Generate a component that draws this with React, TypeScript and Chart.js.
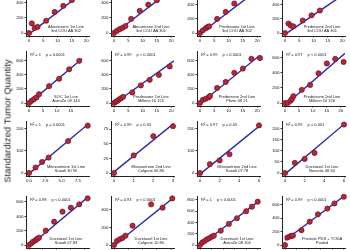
import React, { useEffect, useRef } from "react";
import { Chart, registerables } from "chart.js";

Chart.register(...registerables);

// ---------- data ----------
const panelTitles = [
  "Abiraterone 1st Line", "Abiraterone 2nd Line", "Prednisone 1st Line", "Prednisone 2nd Line",
  "SOC 1st Line", "Prednisone 1st Line", "Prednisone 2nd Line", "Prednisone 2nd Line",
  "Mitoxantrone 1st Line", "Mitoxantrone 2nd Line", "Mitoxantrone 2nd Line", "Docetaxel 1st Line",
  "Docetaxel 1st Line", "Docetaxel 1st Line", "Docetaxel 1st Line", "Prostate PDS + YODA",
];
const panelSources = [
  "3rd COU AA 302", "3rd COU AA 301", "3rd COU AA 302", "3rd COU AA 301",
  "AstraZe 09 144", "Millenn 10 155", "Pfizer 08 21", "Millenn 10 156",
  "Sanofi 30 90", "Celgene 06 86", "Sanofi 07 78", "Novartis 08 60",
  "Sanofi 07 83", "Celgene 10 80", "AstraZe 08 104", "Pooled",
];
const panelR2 = [
  "", "", "", "",
  "R\u00B2 = 1", "R\u00B2 = 0.99", "R\u00B2 = 0.99", "R\u00B2 = 0.97",
  "R\u00B2 = 1", "R\u00B2 = 0.99", "R\u00B2 = 0.97", "R\u00B2 = 0.99",
  "R\u00B2 = 0.98", "R\u00B2 = 0.93", "R\u00B2 = 1", "R\u00B2 = 0.99",
];
const panelP = [
  "", "", "", "",
  "p = 0.0001", "p < 0.0001", "p < 0.0001", "p < 0.0001",
  "p = 0.0001", "p = 0.05", "p = 0.05", "p = 0.001",
  "p < 0.0001", "p < 0.0001", "p < 0.0001", "p < 0.0001",
];

const abi1X = [0, 1, 2, 3, 6, 9, 12, 15];
const abi1Y = [0, 125, 65, 80, 160, 275, 355, 430];
const abi2X = [0, 1, 2, 3, 4, 6, 9, 12, 15];
const abi2Y = [0, 28, 50, 68, 90, 185, 290, 370, 428];
const pred1aX = [0, 1, 2, 2.7, 3.2, 6, 9, 12];
const pred1aY = [0, 38, 67, 86, 95, 200, 300, 420];
const pred2aX = [0, 1.2, 2, 2.9, 6.2, 9.3, 12.2];
const pred2aY = [0, 135, 105, 95, 178, 252, 320];
const socX = [0, 0.9, 1.8, 2.7, 3.6, 7.2, 10.8, 14.4, 18];
const socY = [0, 30, 55, 80, 125, 240, 345, 480, 600];
const pred1bX = [0, 0.6, 1.2, 1.8, 2.5, 3.2, 6.4, 9.4, 12.5, 15.7, 19.5];
const pred1bY = [0, 17, 31, 50, 69, 88, 150, 250, 330, 400, 520];
const pred2bX = [0, 1, 2, 3, 3.5, 6, 9, 12, 15, 18, 21];
const pred2bY = [0, 45, 60, 80, 100, 215, 300, 430, 490, 630, 640];
const pred2cX = [0, 1, 2, 2.5, 3, 6, 9, 12, 15, 18, 21];
const pred2cY = [0, 0, 30, 55, 90, 175, 240, 395, 525, 585, 545];
const mito1X = [0, 1, 2, 3, 6, 9];
const mito1Y = [0, 25, 50, 70, 145, 215];
const mito2aX = [0, 1, 2, 3];
const mito2aY = [0, 30, 63, 80];
const mito2bX = [0, 1, 2, 3, 6];
const mito2bY = [0, 40, 57, 85, 216];
const doce1aX = [0, 1, 2, 3, 6];
const doce1aY = [0, 46, 64, 91, 220];
const doce1bX = [0, 0.8, 1.5, 2.3, 2.9, 3.6, 6, 9, 12, 15, 18, 21];
const doce1bY = [0, 23, 47, 65, 84, 102, 200, 325, 465, 520, 567, 650];
const doce1cX = [0, 1, 2, 3, 4, 6.5, 13, 17, 20.4];
const doce1cY = [0, 45, 65, 80, 105, 218, 460, 422, 527];
const doce1dX = [0, 1, 2, 3, 4, 5, 6, 9, 12.5, 16, 20, 22.5, 25];
const doce1dY = [0, 45, 70, 100, 120, 145, 165, 255, 375, 475, 600, 680, 770];
const pooledX = [0, 1, 2, 2.7, 3.4, 7, 10.5, 14, 18, 21, 25];
const pooledY = [0, 110, 125, 135, 140, 220, 345, 455, 540, 615, 715];

const pointX = [abi1X, abi2X, pred1aX, pred2aX, socX, pred1bX, pred2bX, pred2cX,
  mito1X, mito2aX, mito2bX, doce1aX, doce1bX, doce1cX, doce1dX, pooledX];
const pointY = [abi1Y, abi2Y, pred1aY, pred2aY, socY, pred1bY, pred2bY, pred2cY,
  mito1Y, mito2aY, mito2bY, doce1aY, doce1bY, doce1cY, doce1dY, pooledY];

// regression line end points [x0, y0, x1, y1]
const fitLines = [
  [0, -15, 21, 590], [0, -10, 21, 590], [0, -10, 21, 640], [0, -20, 21, 560],
  [0, -5, 19, 630], [0, -10, 21, 600], [0, -10, 21, 680], [0, -30, 21.5, 660],
  [0, -3, 9.2, 225], [0, 2, 3.05, 85], [0, -5, 6.1, 215], [0, -5, 6.1, 225],
  [0, -20, 21.5, 680], [0, -5, 21, 540], [0, -10, 25.5, 780], [0, 70, 25.5, 735],
];

const xAxisMax = [21, 21, 21, 21, 21.5, 21, 21, 21.5, 9.2, 3.05, 6.1, 6.1, 21.5, 21, 26, 25.5];
const yAxisMax = [680, 680, 740, 740, 740, 740, 740, 690, 236, 89, 236, 236, 683, 554, 870, 726];

const T20 = [0, 5, 10, 15, 20];
const xTickValues = [
  T20, T20, T20, T20,
  [0, 5, 10, 15], T20, T20, T20,
  [0, 2.5, 5, 7.5], [0, 1, 2, 3], [0, 2, 4, 6], [0, 2, 4, 6],
  T20, T20, [0, 5, 10, 15, 20, 25], [0, 5, 10, 15, 20, 25],
];
const xTickDecimals = [0, 0, 0, 0, 0, 0, 0, 0, 1, 0, 0, 0, 0, 0, 0, 0];
const Y600 = [0, 200, 400, 600];
const yTickValues = [
  Y600, Y600, Y600, Y600,
  Y600, Y600, Y600, Y600,
  [0, 100, 200], [0, 25, 50, 75], [0, 100, 200], [0, 50, 100, 150, 200],
  Y600, [0, 200, 400], [0, 200, 400, 600, 800], Y600,
];

const yAxisTitle = "Standardized Tumor Quantity";

// ---------- layout ----------
const COL_X0 = [29, 114, 200, 285];
const ROW_Y0 = [33, 103, 173, 245];
const ROW_H = [52, 52, 52, 49];
const PLOT_W = 60;
const OFF = 3;
const Y_AXIS_W = 16;
const X_AXIS_H = 10;
const PAD_T = 4;
const PAD_R = 5;
const FONT = "'Liberation Sans', Arial, sans-serif";

function Panel({ idx }: { idx: number }) {
  const ref = useRef<HTMLCanvasElement>(null);
  const r = Math.floor(idx / 4);
  const c = idx % 4;
  const H = ROW_H[r];
  const width = Y_AXIS_W + OFF + PLOT_W + PAD_R;
  const height = PAD_T + H + OFF + X_AXIS_H;
  const left = COL_X0[c] - OFF - Y_AXIS_W;
  const top = ROW_Y0[r] - H - PAD_T;

  useEffect(() => {
    const xMax = xAxisMax[idx];
    const yMax = yAxisMax[idx];
    const xMin = (-xMax * OFF) / PLOT_W;
    const yMin = (-yMax * OFF) / H;
    const pts = pointX[idx].map((x, i) => ({ x, y: pointY[idx][i] }));
    const fl = fitLines[idx];
    const textPlugin = {
      id: "panelText",
      beforeDatasetsDraw(chart: any) {
        const { ctx, chartArea, scales } = chart;
        const x0 = scales.x.getPixelForValue(0);
        const y0 = scales.y.getPixelForValue(0);
        ctx.save();
        ctx.fillStyle = "#1a1a1a";
        ctx.font = `4px ${FONT}`;
        ctx.textBaseline = "middle";
        if (panelR2[idx]) {
          ctx.textAlign = "left";
          ctx.fillText(panelR2[idx], x0 + 1, chartArea.top + 4);
          const w = ctx.measureText(panelR2[idx]).width;
          ctx.fillText(panelP[idx], x0 + 1 + w + 5, chartArea.top + 4);
        }
        ctx.textAlign = "center";
        ctx.fillText(panelTitles[idx], x0 + 37, y0 - 6.2);
        ctx.fillText(panelSources[idx], x0 + 37, y0 - 2.2);
        ctx.restore();
      },
    };
    const axisCommon = {
      type: "linear" as const,
      grid: {
        display: true,
        drawOnChartArea: false,
        drawTicks: true,
        tickLength: 1.5,
        color: "#222",
        lineWidth: 0.9,
      },
      border: { display: true, color: "#222", width: 1 },
    };
    const chart = new Chart(ref.current as HTMLCanvasElement, {
      type: "scatter",
      data: {
        datasets: [
          {
            type: "scatter",
            data: pts,
            pointRadius: 2.6,
            backgroundColor: "#b3283a",
            borderColor: "#6e1224",
            borderWidth: 0.7,
            clip: false as any,
            order: 0,
          },
          {
            type: "line",
            data: [
              { x: fl[0], y: fl[1] },
              { x: fl[2], y: fl[3] },
            ],
            borderColor: "#2a2aa8",
            borderWidth: 1.4,
            pointRadius: 0,
            fill: false,
            clip: 0 as any,
            order: 1,
          } as any,
        ],
      },
      options: {
        responsive: false,
        animation: false,
        devicePixelRatio: 1,
        layout: {
          padding: { top: PAD_T, right: PAD_R, left: 0, bottom: 0 },
          autoPadding: false,
        },
        plugins: { legend: { display: false }, tooltip: { enabled: false } },
        scales: {
          x: {
            ...axisCommon,
            min: xMin,
            max: xMax,
            afterFit: (s: any) => {
              s.height = X_AXIS_H;
            },
            afterBuildTicks: (s: any) => {
              s.ticks = xTickValues[idx].map((v) => ({ value: v }));
            },
            ticks: {
              font: { size: 4.4, family: FONT },
              color: "#111",
              padding: 0.3,
              maxRotation: 0,
              autoSkip: false,
              callback: (v: any) => Number(v).toFixed(xTickDecimals[idx]),
            },
          },
          y: {
            ...axisCommon,
            min: yMin,
            max: yMax,
            afterFit: (s: any) => {
              s.width = Y_AXIS_W;
            },
            afterBuildTicks: (s: any) => {
              s.ticks = yTickValues[idx].map((v) => ({ value: v }));
            },
            ticks: {
              font: { size: 4.4, family: FONT },
              color: "#111",
              padding: 1,
              autoSkip: false,
              callback: (v: any) => String(v),
            },
          },
        },
      } as any,
      plugins: [textPlugin],
    } as any);
    return () => chart.destroy();
  }, []);

  return (
    <canvas
      ref={ref}
      width={width}
      height={height}
      style={{ position: "absolute", left, top, width, height }}
    />
  );
}

export default function App() {
  const panels = [];
  for (let i = 0; i < 16; i++) panels.push(<Panel key={i} idx={i} />);
  return (
    <div style={{ position: "absolute", left: 0, top: 0, width: 350, height: 250, overflow: "hidden", background: "#fff" }}>
      {panels}
      <div
        style={{
          position: "absolute",
          left: 7,
          top: 121,
          transform: "translate(-50%, -50%) rotate(-90deg)",
          fontFamily: FONT,
          fontSize: 9.5,
          whiteSpace: "nowrap",
          color: "#222",
        }}
      >
        {yAxisTitle}
      </div>
    </div>
  );
}
